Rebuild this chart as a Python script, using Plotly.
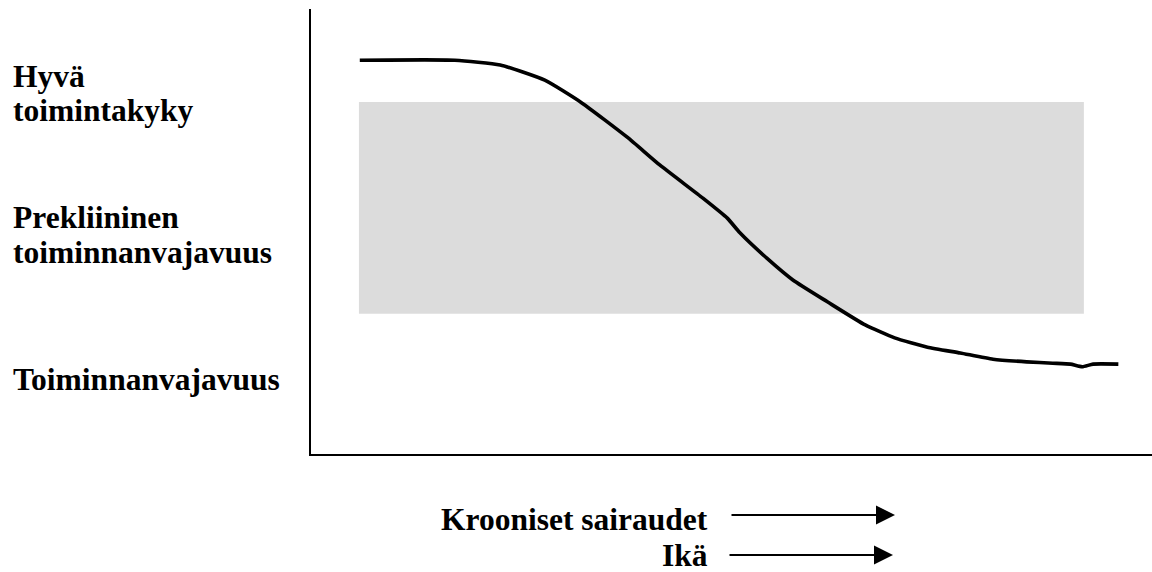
import plotly.graph_objects as go

# ---- data (abstract units: time/age 0-100, functional ability 0-100) ----
age = [5.8, 17.1, 22.5, 27.8, 32.2, 37.6, 41.5, 46.6, 49.5, 51.0, 54.2, 57.3,
       61.4, 65.9, 69.4, 73.3, 77.2, 81.1, 85.1, 88.2, 90.3, 91.7, 93.0, 96.0]
ability = [88.5, 88.5, 87.4, 84.0, 78.9, 71.2, 64.9, 57.5, 53.0, 49.7, 44.0, 39.1,
           34.2, 29.0, 26.1, 24.0, 22.7, 21.3, 20.7, 20.4, 20.2, 19.6, 20.2, 20.2]
band_x = [5.7, 91.9]
band_y = [31.5, 79.1]

level_labels = [["Hyvä", "toimintakyky"],
                ["Prekliininen", "toiminnanvajavuus"],
                ["Toiminnanvajavuus"]]
driver_labels = ["Krooniset sairaudet", "Ikä"]

# ---- layout geometry (pixels) ----
W, H = 1152, 572
L, R, T, B = 311, 0, 9, 118
PW, PH = W - L - R, H - T - B


def px_x(px):
    return (px - L) / PW


def px_y(py):
    return (H - B - py) / PH


FONT = dict(family="Liberation Serif, Times New Roman, serif", size=31.5, color="black")

fig = go.Figure()
fig.add_trace(go.Scatter(x=age, y=ability, mode="lines",
                         line=dict(color="black", width=3.6, shape="spline", smoothing=0.5),
                         hoverinfo="skip", showlegend=False))

fig.add_shape(type="rect", xref="x", yref="y", x0=band_x[0], x1=band_x[1],
              y0=band_y[0], y1=band_y[1], fillcolor="#dcdcdc",
              line=dict(width=0), layer="below")

annotations = []
# left labels: baselines in px
baselines = [[87, 121], [228, 262], [389]]
for lines, bls in zip(level_labels, baselines):
    for text, bl in zip(lines, bls):
        annotations.append(dict(text="<b>%s</b>" % text, xref="paper", yref="paper",
                                x=px_x(11), y=px_y(bl - 10), xanchor="left", yanchor="middle",
                                showarrow=False, font=FONT))

# bottom labels with arrows
for text, bl, ay_px, x0, x1 in zip(driver_labels, [529, 565], [515, 555], [730, 728], [895, 893]):
    annotations.append(dict(text="<b>%s</b>" % text, xref="paper", yref="paper",
                            x=px_x(709), y=px_y(bl - 10), xanchor="right", yanchor="middle",
                            showarrow=False, font=FONT, borderpad=0))
    annotations.append(dict(text="", xref="paper", yref="paper",
                            x=px_x(x1), y=px_y(ay_px), ax=x0 - x1, ay=0,
                            axref="pixel", ayref="pixel",
                            showarrow=True, arrowhead=2, arrowwidth=2, arrowsize=1.9,
                            arrowcolor="black"))

fig.update_layout(
    width=W, height=H,
    margin=dict(l=L, r=R, t=T, b=B, pad=0),
    paper_bgcolor="white", plot_bgcolor="white",
    xaxis=dict(range=[0, 100], showgrid=False, zeroline=False, showticklabels=False,
               ticks="", showline=True, linecolor="black", linewidth=2, fixedrange=True),
    yaxis=dict(range=[0, 100], showgrid=False, zeroline=False, showticklabels=False,
               ticks="", showline=True, linecolor="black", linewidth=2, fixedrange=True),
    annotations=annotations,
    showlegend=False,
    hovermode=False,
)

fig.write_html("out.html", config={"displayModeBar": False},
               post_script="document.body.style.margin='0';document.body.style.overflow='hidden';")
